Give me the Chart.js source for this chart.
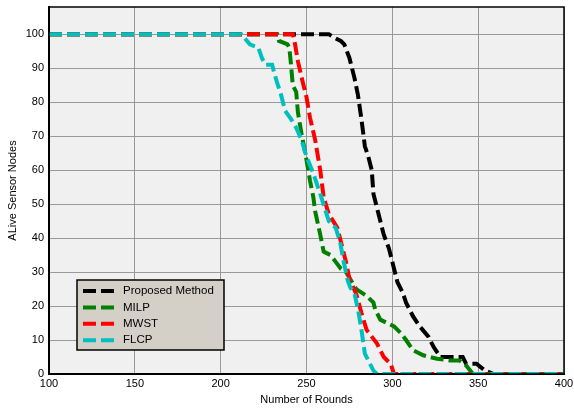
<!DOCTYPE html>
<html>
<head>
<meta charset="utf-8">
<script src="https://cdn.jsdelivr.net/npm/chart.js@4.4.1/dist/chart.umd.min.js"></script>
<style>
  html, body { margin: 0; padding: 0; background: #ffffff; }
  #wrap { width: 574px; height: 408px; }
</style>
</head>
<body>
<div id="wrap"><canvas id="roundsChart" width="574" height="408"></canvas></div>
<script>
// values
const seriesNames = ["Proposed Method", "MILP", "MWST", "FLCP"];

const propX = [100, 263, 266, 270, 272, 275, 278, 280, 282, 284, 286, 288, 289, 291, 293, 295, 298, 301, 303, 306, 308, 312, 316, 321, 324, 328, 335, 341, 343, 349, 354, 359, 400];
const propY = [100, 100, 99, 98, 97, 93, 87, 82, 75, 67, 64, 60, 53, 49, 45, 41, 37, 31, 27, 24, 21, 17, 14, 11, 8, 5, 5, 5, 3, 3, 1, 0, 0];

const milpX = [100, 233, 234, 239, 240, 241, 242, 244, 245, 247, 250, 252, 254, 255, 258, 260, 264, 267, 270, 273, 279, 285, 289, 290, 293, 297, 301, 305, 308, 312, 318, 326, 334, 339, 343, 347, 400];
const milpY = [100, 100, 98, 97, 96, 91, 85, 83, 77, 71, 63, 57, 52, 48, 41, 36, 35, 33, 31, 30, 25, 23, 21, 19, 16, 15, 14, 12, 10, 7, 5.5, 4.5, 4, 4, 2.5, 0, 0];

const mwstX = [100, 242, 243, 245, 248, 250, 252, 255, 258, 260, 263, 268, 271, 273, 275, 279, 282, 285, 288, 291, 295, 299, 301, 400];
const mwstY = [100, 100, 98, 92, 85.5, 81.5, 75.5, 69, 60, 52, 47, 43, 37, 33, 28, 23.5, 18, 13, 11, 9, 5, 3, 0, 0];

const flcpX = [100, 212, 217, 222, 224, 226, 230, 231, 233, 235, 237.5, 241, 244, 247, 250, 254, 258, 263, 267, 269.5, 271.5, 274, 275.5, 278, 280, 282, 284, 289, 291, 400];
const flcpY = [100, 100, 97, 96, 93, 91, 91, 89, 85.5, 82.5, 77.5, 75, 72.5, 69, 64, 59, 53, 45, 43, 39, 33.5, 27.5, 25.5, 23.5, 19, 13, 6, 1, 0, 0];

const xTicks = [100, 150, 200, 250, 300, 350, 400];
const yTicks = [0, 10, 20, 30, 40, 50, 60, 70, 80, 90, 100];

const colors = ["#000000", "#008000", "#ff0000", "#00bfbf"];

function toPoints(xs, ys) {
  return xs.map((x, i) => ({ x: x, y: ys[i] }));
}

const allSeries = [[propX, propY], [milpX, milpY], [mwstX, mwstY], [flcpX, flcpY]];

const FONT = "'Liberation Sans', Arial, sans-serif";

/* =========================
   PLOT BACKGROUND + FRAME
========================= */
const plotFrame = {
  id: "plotFrame",
  beforeDraw(chart) {
    const { ctx, chartArea: a } = chart;
    ctx.save();
    ctx.fillStyle = "#f0f0f0";
    ctx.fillRect(a.left, a.top, a.right - a.left, a.bottom - a.top);
    ctx.restore();
  },
  afterDraw(chart) {
    const { ctx, chartArea: a } = chart;
    ctx.save();
    ctx.strokeStyle = "#000";
    ctx.lineWidth = 1.5;
    ctx.strokeRect(a.left, a.top, a.right - a.left, a.bottom - a.top);
    ctx.restore();
  }
};

/* =========================
   LEGEND INSIDE THE AXES
========================= */
const insideLegend = {
  id: "insideLegend",
  afterDraw(chart) {
    const ctx = chart.ctx;
    const bx = 77, by = 280, bw = 147, bh = 70;
    ctx.save();
    ctx.fillStyle = "#d4d0c8";
    ctx.fillRect(bx, by, bw, bh);
    ctx.strokeStyle = "#000";
    ctx.lineWidth = 1.5;
    ctx.strokeRect(bx, by, bw, bh);

    ctx.font = "11.5px " + FONT;
    ctx.textBaseline = "middle";
    chart.data.datasets.forEach((ds, i) => {
      const cy = by + 11 + i * 16.4;
      ctx.strokeStyle = ds.borderColor;
      ctx.lineWidth = 4;
      ctx.setLineDash([13, 5]);
      ctx.beginPath();
      ctx.moveTo(bx + 6, cy);
      ctx.lineTo(bx + 38, cy);
      ctx.stroke();
      ctx.setLineDash([]);
      ctx.fillStyle = "#000";
      ctx.fillText(ds.label, bx + 46, cy);
    });
    ctx.restore();
  }
};

const ctx = document.getElementById("roundsChart");

new Chart(ctx, {
  type: "line",
  data: {
    datasets: seriesNames.map((name, i) => ({
      label: name,
      data: toPoints(allSeries[i][0], allSeries[i][1]),
      borderColor: colors[i],
      backgroundColor: colors[i],
      borderWidth: 4,
      borderDash: [13, 5],
      pointRadius: 0,
      tension: 0,
      fill: false,
      order: seriesNames.length - i
    }))
  },
  options: {
    responsive: false,
    animation: false,
    devicePixelRatio: 1,
    layout: { padding: { top: 7, right: 10, left: 0, bottom: 0 } },
    plugins: {
      legend: { display: false },
      tooltip: { enabled: false }
    },
    scales: {
      x: {
        type: "linear",
        min: 100,
        max: 400,
        afterBuildTicks: scale => { scale.ticks = xTicks.map(v => ({ value: v })); },
        afterFit: scale => { scale.height = 34; scale.paddingLeft = 0; scale.paddingRight = 0; },
        grid: { color: "#999999", lineWidth: 1, drawTicks: false },
        border: { color: "#000", width: 2 },
        ticks: { color: "#000", padding: 3, maxRotation: 0, font: { family: FONT, size: 11 } },
        title: {
          display: true,
          text: "Number of Rounds",
          color: "#000",
          padding: { top: 0, bottom: 1 },
          font: { family: FONT, size: 11 }
        }
      },
      y: {
        min: 0,
        max: 108,
        afterBuildTicks: scale => { scale.ticks = yTicks.map(v => ({ value: v })); },
        afterFit: scale => { scale.width = 49; scale.paddingTop = 0; scale.paddingBottom = 0; },
        grid: { color: "#999999", lineWidth: 1, drawTicks: false },
        border: { color: "#000", width: 2 },
        ticks: { color: "#000", padding: 5, font: { family: FONT, size: 11 } },
        title: {
          display: true,
          text: "ALive Sensor Nodes",
          color: "#000",
          padding: { top: 6, bottom: 0 },
          font: { family: FONT, size: 11 }
        }
      }
    }
  },
  plugins: [plotFrame, insideLegend]
});
</script>
</body>
</html>
